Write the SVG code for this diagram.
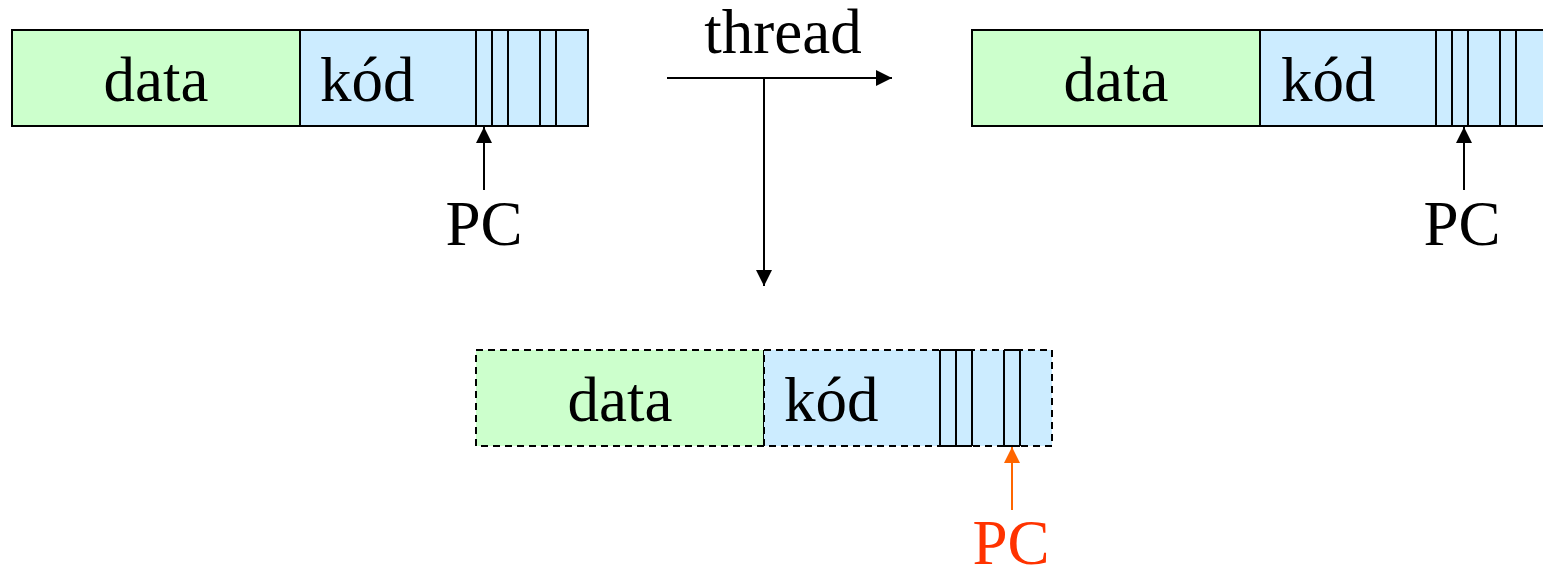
<svg xmlns="http://www.w3.org/2000/svg" width="1543" height="571" viewBox="0 0 1543 571">
<style>
.t{font-family:"Liberation Serif",serif;font-size:63px;fill:#000}
.g{fill:#CCFFCC;stroke:#000;stroke-width:2}
.b{fill:#CCECFF;stroke:#000;stroke-width:2}
.d{stroke-dasharray:7 5}
.l{stroke:#000;stroke-width:2;fill:none}
.c{stroke:#000;stroke-width:2;fill:none}
</style>
<defs>
<marker id="ah" markerWidth="16" markerHeight="16" refX="16" refY="8" orient="auto" markerUnits="userSpaceOnUse"><path d="M0,0 L16,8 L0,16 Z" fill="#000"/></marker>
<marker id="ao" markerWidth="16" markerHeight="16" refX="16" refY="8" orient="auto" markerUnits="userSpaceOnUse"><path d="M0,0 L16,8 L0,16 Z" fill="#FF6600"/></marker>
</defs>
<g id="proc1">
<rect class="g" x="12" y="30" width="288" height="96"/>
<rect class="b" x="300" y="30" width="288" height="96"/>
<path class="l" d="M476,30V126M492,30V126M508,30V126M540,30V126M556,30V126"/>
<text class="t" x="156" y="101" text-anchor="middle">data</text>
<text class="t" x="320" y="101">kód</text>
<text class="t" x="484" y="245" text-anchor="middle">PC</text>
</g>
<g id="proc2">
<rect class="g" x="972" y="30" width="288" height="96"/>
<rect class="b" x="1260" y="30" width="288" height="96"/>
<path class="l" d="M1436,30V126M1452,30V126M1468,30V126M1500,30V126M1516,30V126"/>
<text class="t" x="1116" y="101" text-anchor="middle">data</text>
<text class="t" x="1281" y="101">kód</text>
<text class="t" x="1462" y="245" text-anchor="middle">PC</text>
</g>
<g id="proc3">
<rect class="g d" x="476" y="350" width="288" height="96"/>
<rect class="b d" x="764" y="350" width="288" height="96"/>
<path class="l" d="M940,350V446M956,350V446M972,350V446M1004,350V446M1020,350V446M940,350H972M940,446H972M1004,350H1020M1004,446H1020"/>
<text class="t" x="620" y="421" text-anchor="middle">data</text>
<text class="t" x="784" y="421">kód</text>
<text class="t" x="1011" y="564" text-anchor="middle" style="fill:#FF3300">PC</text>
</g>
<g id="thread-label">
<text class="t" x="783" y="53" text-anchor="middle">thread</text>
</g>
<g id="connectors">
<line class="c" x1="484" y1="190" x2="484" y2="127" marker-end="url(#ah)"/>
<line class="c" x1="1464" y1="190" x2="1464" y2="127" marker-end="url(#ah)"/>
<line x1="1012" y1="510" x2="1012" y2="447" stroke="#FF6600" stroke-width="2" marker-end="url(#ao)"/>
<line class="c" x1="667" y1="78" x2="892" y2="78" marker-end="url(#ah)"/>
<line class="c" x1="764" y1="78" x2="764" y2="286" marker-end="url(#ah)"/>
</g>
</svg>
